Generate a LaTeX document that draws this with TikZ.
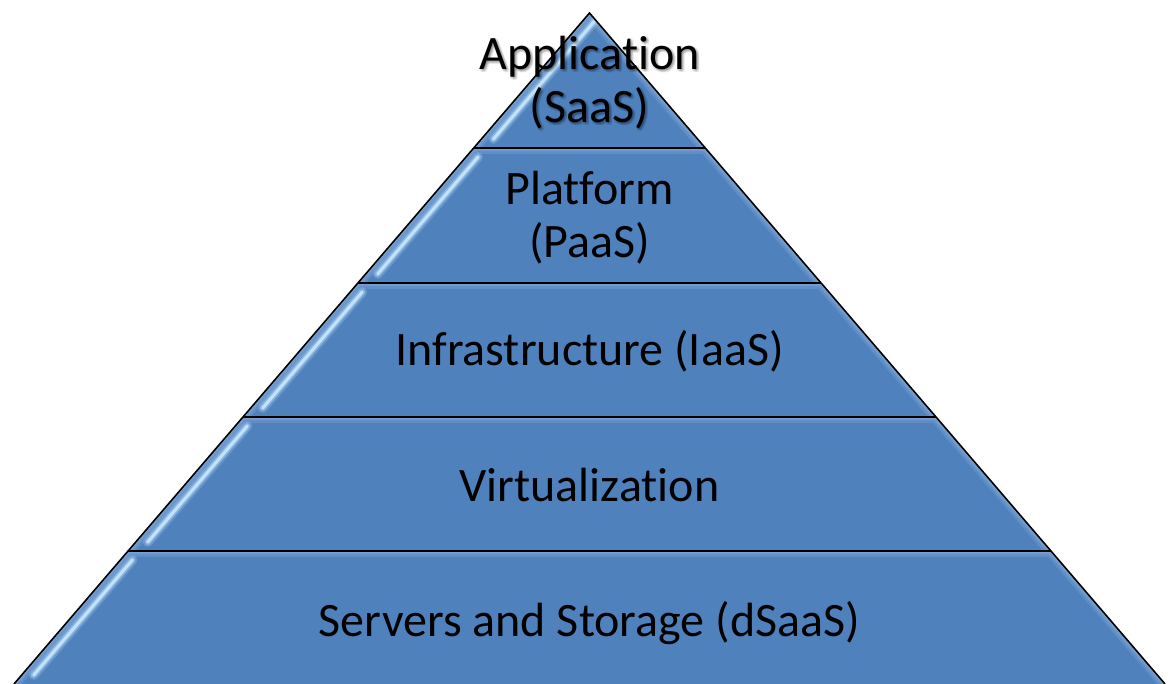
\documentclass[tikz,border=0pt]{standalone}
\usepackage{fontspec}
\setmainfont{Carlito}[Ligatures={NoCommon,NoDiscretionary}]
\usetikzlibrary{calc}
\definecolor{layerblue}{HTML}{4F81BD}
\definecolor{bevel}{HTML}{A9C6EA}
\definecolor{gloss}{HTML}{C9EAFF}
\begin{document}
\begin{tikzpicture}[x=1pt,y=-1pt,
  tier label/.style={font=\fontsize{48}{53}\selectfont, align=center,
    text=black, inner sep=0pt, anchor=base},
  tier shadow/.style={tier label, text=black, opacity=0.07},
  outline/.style={draw=black, line width=1.6pt, line join=miter}]
\useasboundingbox (0,0) rectangle (1173,684);
% apex position and half-width growth per unit of height
\def\ax{589.5}\def\ay{13}\def\k{0.8577}
\coordinate (apex) at (\ax,\ay);
% five stacked tiers
\foreach \t/\b in {13/148,148/283,283/417,417/551,551/684}{
  \pgfmathsetmacro\tl{\ax-\k*(\t-\ay)}
  \pgfmathsetmacro\tr{\ax+\k*(\t-\ay)}
  \pgfmathsetmacro\bl{\ax-\k*(\b-\ay)}
  \pgfmathsetmacro\br{\ax+\k*(\b-\ay)}
  \begin{scope}
    \path[clip] (\tl,\t) -- (\tr,\t) -- (\br,\b) -- (\bl,\b) -- cycle;
    \fill[layerblue] (\bl,\b) rectangle (\br,\t);
    % soft bevel along the top and slanted sides
    \foreach \w/\o in {12/0.18,7/0.22,3/0.3}{
      \draw[bevel, line width=\w pt, opacity=\o]
        (\bl,\b) -- (\tl,\t) -- (\tr,\t) -- (\br,\b);
    }
    % glossy highlight along the left side
    \pgfmathsetmacro\gty{\t+9}
    \pgfmathsetmacro\gby{\b-9}
    \pgfmathsetmacro\gtx{\ax-\k*(\gty-\ay)+12}
    \pgfmathsetmacro\gbx{\ax-\k*(\gby-\ay)+12}
    \draw[gloss, line width=10pt, opacity=0.2, line cap=round]
      (\gtx,\gty) -- (\gbx,\gby);
    \draw[gloss, line width=6pt, opacity=0.4, line cap=round]
      (\gtx,\gty) -- (\gbx,\gby);
    \draw[gloss, line width=3pt, opacity=0.85, line cap=round]
      (\gtx,\gty) -- (\gbx,\gby);
  \end{scope}
}
% pyramid outline and tier separators
\pgfmathsetmacro\baseL{\ax-\k*(684-\ay)}
\pgfmathsetmacro\baseR{\ax+\k*(684-\ay)}
\coordinate (baseL) at (\baseL,684);
\coordinate (baseR) at (\baseR,684);
\draw[outline] (baseL) -- (apex) -- (baseR);
\foreach \y in {148,283,417,551}{
  \pgfmathsetmacro\sl{\ax-\k*(\y-\ay)}
  \pgfmathsetmacro\sr{\ax+\k*(\y-\ay)}
  \draw[outline] (\sl,\y) -- (\sr,\y);
}
% soft shadow behind the top label
\foreach \dx/\dy [count=\i] in {1/1,2/2,3/3,2/0,0/2,3/1,1/3}{
  \node[tier shadow] (appshadow\i) at (\ax+\dx,123+\dy) {Application\\(SaaS)};
}
% tier labels (anchored on the baseline of the last line)
\node[tier label] (app)   at (\ax,123) {Application\\(SaaS)};
\node[tier label] (plat)  at (\ax,258) {Platform\\(PaaS)};
\node[tier label] (infra) at (\ax,366) {Infrastructure (IaaS)};
\node[tier label] (virt)  at (\ax,501) {Virtualization};
\node[tier label] (srv)   at (\ax,636) {Servers and Storage (dSaaS)};
\end{tikzpicture}
\end{document}
